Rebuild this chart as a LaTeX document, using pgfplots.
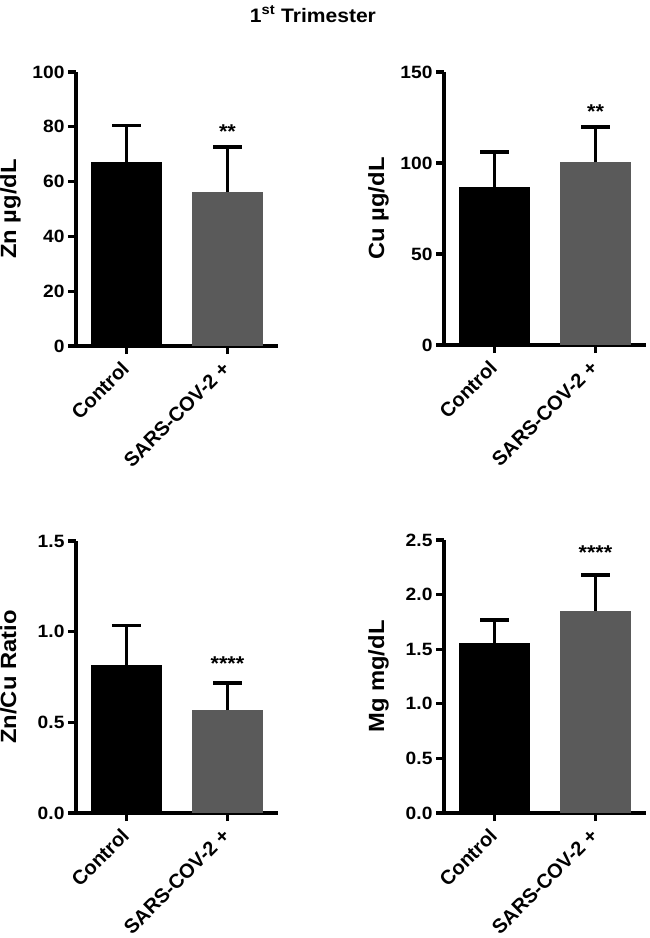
\documentclass[border=0pt]{standalone}
\usepackage{fontspec}
\setmainfont{Liberation Sans}[FakeStretch=1.08]
\newfontfamily\xlfont{Liberation Sans}
\usepackage{pgfplots}
\pgfplotsset{compat=1.18}
\definecolor{sarsgray}{RGB}{90,90,90}
\tikzset{stars/.style={anchor=base, font=\bfseries\fontsize{20}{24}\selectfont}}
\pgfplotsset{
  panel/.style={
    scale only axis, width=202pt,
    xmin=-0.5, xmax=1.5, ymin=0,
    axis x line*=bottom, axis y line*=left,
    axis line style={line width=3.2pt},
    tick align=outside, major tick length=8pt,
    tick style={line width=3.2pt, black},
    xtick={0,1}, xticklabels={Control, SARS-COV-2 +},
    xticklabel style={xshift=-6.5pt, yshift=-3pt, rotate=45, anchor=north east, font=\xlfont\bfseries\fontsize{20}{24}\selectfont, inner sep=2pt},
    yticklabel style={font=\bfseries\fontsize{17.8}{21}\selectfont},
    /pgf/number format/assume math mode=true,
    ylabel style={font=\bfseries\fontsize{22}{26}\selectfont, at={(axis description cs:-0.297,0.5)}, anchor=base},
    clip=false,
    ybar, bar width=0.7,
    error bars/y dir=plus, error bars/y explicit,
    error bars/error bar style={line width=3.2pt, draw=black},
    error bars/error mark options={rotate=90, line width=3.2pt, mark size=14.5pt, draw=black},
  },
  onedec/.style={yticklabel style={/pgf/number format/.cd, fixed, fixed zerofill, precision=1}},
}
\begin{document}
\begin{tikzpicture}
\path[use as bounding box] (0pt,0pt) rectangle (649pt,-938pt);
% Panel 1: Zn
\begin{axis}[panel, at={(76pt,-346pt)}, anchor=south west, height=274pt,
  ymax=100, ytick={0,20,40,60,80,100}, ylabel={Zn µg/dL}]
\addplot[fill=black, draw=none, bar shift=0pt] coordinates {(0,67.2) +- (0,13.3)};
\addplot[fill=sarsgray, draw=none, bar shift=0pt] coordinates {(1,56.2) +- (0,16.4)};
\node[stars] at (axis cs:1,75.9) {**};
\node[anchor=base, font=\bfseries\fontsize{19.5}{24}\selectfont] at (axis description cs:1.173,1.1825) {1\textsuperscript{st} Trimester};
\end{axis}
% Panel 2: Cu
\begin{axis}[panel, at={(444pt,-345pt)}, anchor=south west, height=273pt,
  ymax=150, ytick={0,50,100,150}, ylabel={Cu µg/dL}]
\addplot[fill=black, draw=none, bar shift=0pt] coordinates {(0,86.8) +- (0,19.2)};
\addplot[fill=sarsgray, draw=none, bar shift=0pt] coordinates {(1,100.5) +- (0,19.3)};
\node[stars] at (axis cs:1,124.6) {**};
\end{axis}
% Panel 3: Zn/Cu
\begin{axis}[panel, onedec, at={(76pt,-813pt)}, anchor=south west, height=272pt,
  ymax=1.5, ytick={0,0.5,1,1.5}, ylabel={Zn/Cu Ratio}]
\addplot[fill=black, draw=none, bar shift=0pt] coordinates {(0,0.816) +- (0,0.22)};
\addplot[fill=sarsgray, draw=none, bar shift=0pt] coordinates {(1,0.568) +- (0,0.149)};
\node[stars] at (axis cs:1,0.784) {****};
\end{axis}
% Panel 4: Mg
\begin{axis}[panel, onedec, at={(444pt,-813pt)}, anchor=south west, height=273pt,
  ymax=2.5, ytick={0,0.5,1,1.5,2,2.5}, ylabel={Mg mg/dL}]
\addplot[fill=black, draw=none, bar shift=0pt] coordinates {(0,1.557) +- (0,0.21)};
\addplot[fill=sarsgray, draw=none, bar shift=0pt] coordinates {(1,1.85) +- (0,0.33)};
\node[stars] at (axis cs:1,2.317) {****};
\end{axis}
\end{tikzpicture}
\end{document}
